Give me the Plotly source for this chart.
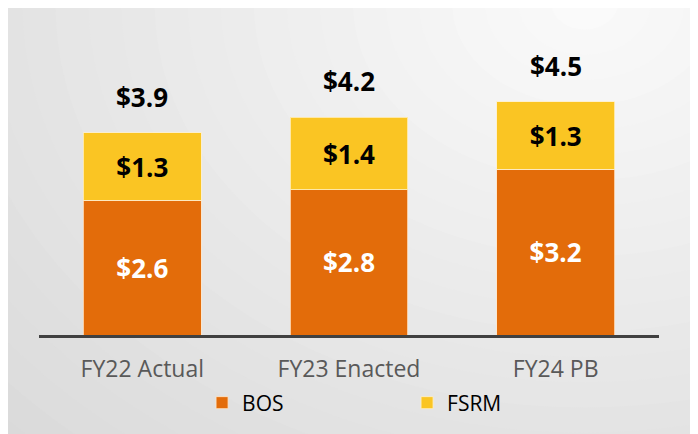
import plotly.graph_objects as go

categories = ["FY22 Actual", "FY23 Enacted", "FY24 PB"]
bos = [2.6, 2.8, 3.2]
fsrm = [1.3, 1.4, 1.3]
totals = [3.9, 4.2, 4.5]

ORANGE = "#E36C0A"
YELLOW = "#FAC523"
FONT = "Open Sans, Liberation Sans, sans-serif"

fig = go.Figure()
fig.add_trace(go.Bar(
    x=categories, y=bos, name="BOS",
    marker=dict(color=ORANGE, line=dict(color="rgba(255,230,200,0.8)", width=1)),
    text=[f"${v:.1f}" for v in bos], textposition="inside", insidetextanchor="middle",
    textfont=dict(color="white", size=26, family=FONT, weight="bold"),
))
fig.add_trace(go.Bar(
    x=categories, y=fsrm, name="FSRM",
    marker=dict(color=YELLOW, line=dict(color="rgba(255,240,200,0.8)", width=1)),
    text=[f"${v:.1f}" for v in fsrm], textposition="inside", insidetextanchor="middle",
    textfont=dict(color="black", size=26, family=FONT, weight="bold"),
))

# totals above each stack
for c, t in zip(categories, totals):
    fig.add_annotation(x=c, y=t, text=f"<b>${t:.1f}</b>", showarrow=False,
                       yanchor="middle", yshift=36,
                       font=dict(size=26, color="black", family=FONT))

# soft radial background, lighter towards top right
shapes = []
n = 45
for i in range(n):
    r = 2.4 * (1 - i / n)
    g = int(192 + (250 - 192) * i / (n - 1))
    shapes.append(dict(type="circle", xref="paper", yref="paper", layer="below",
                       x0=0.88 - r, x1=0.88 + r, y0=1.05 - r * 1.5, y1=1.05 + r * 1.5,
                       line=dict(width=0), fillcolor=f"rgb({g},{g},{g})"))

# page body has an 8px margin, so the figure is sized to fit the window
fig.update_layout(
    width=690, height=426,
    barmode="stack", bargap=0.43,
    margin=dict(l=31, r=39, t=12, b=98),
    paper_bgcolor="#d0d0d0", plot_bgcolor="rgba(0,0,0,0)",
    shapes=shapes,
    showlegend=True,
    legend=dict(orientation="h", x=0.263, xanchor="left", y=-0.212, yanchor="middle",
                font=dict(size=21, color="black", family=FONT),
                entrywidth=160, traceorder="normal", bgcolor="rgba(0,0,0,0)"),
    font=dict(family=FONT),
)
fig.update_xaxes(showline=True, linecolor="#404040", linewidth=3,
                 ticks="outside", ticklen=11, tickcolor="rgba(0,0,0,0)",
                 tickfont=dict(size=23, color="#595959", family=FONT))
fig.update_yaxes(range=[0, 6.08], visible=False, showgrid=False)

fig.write_html("out.html")
